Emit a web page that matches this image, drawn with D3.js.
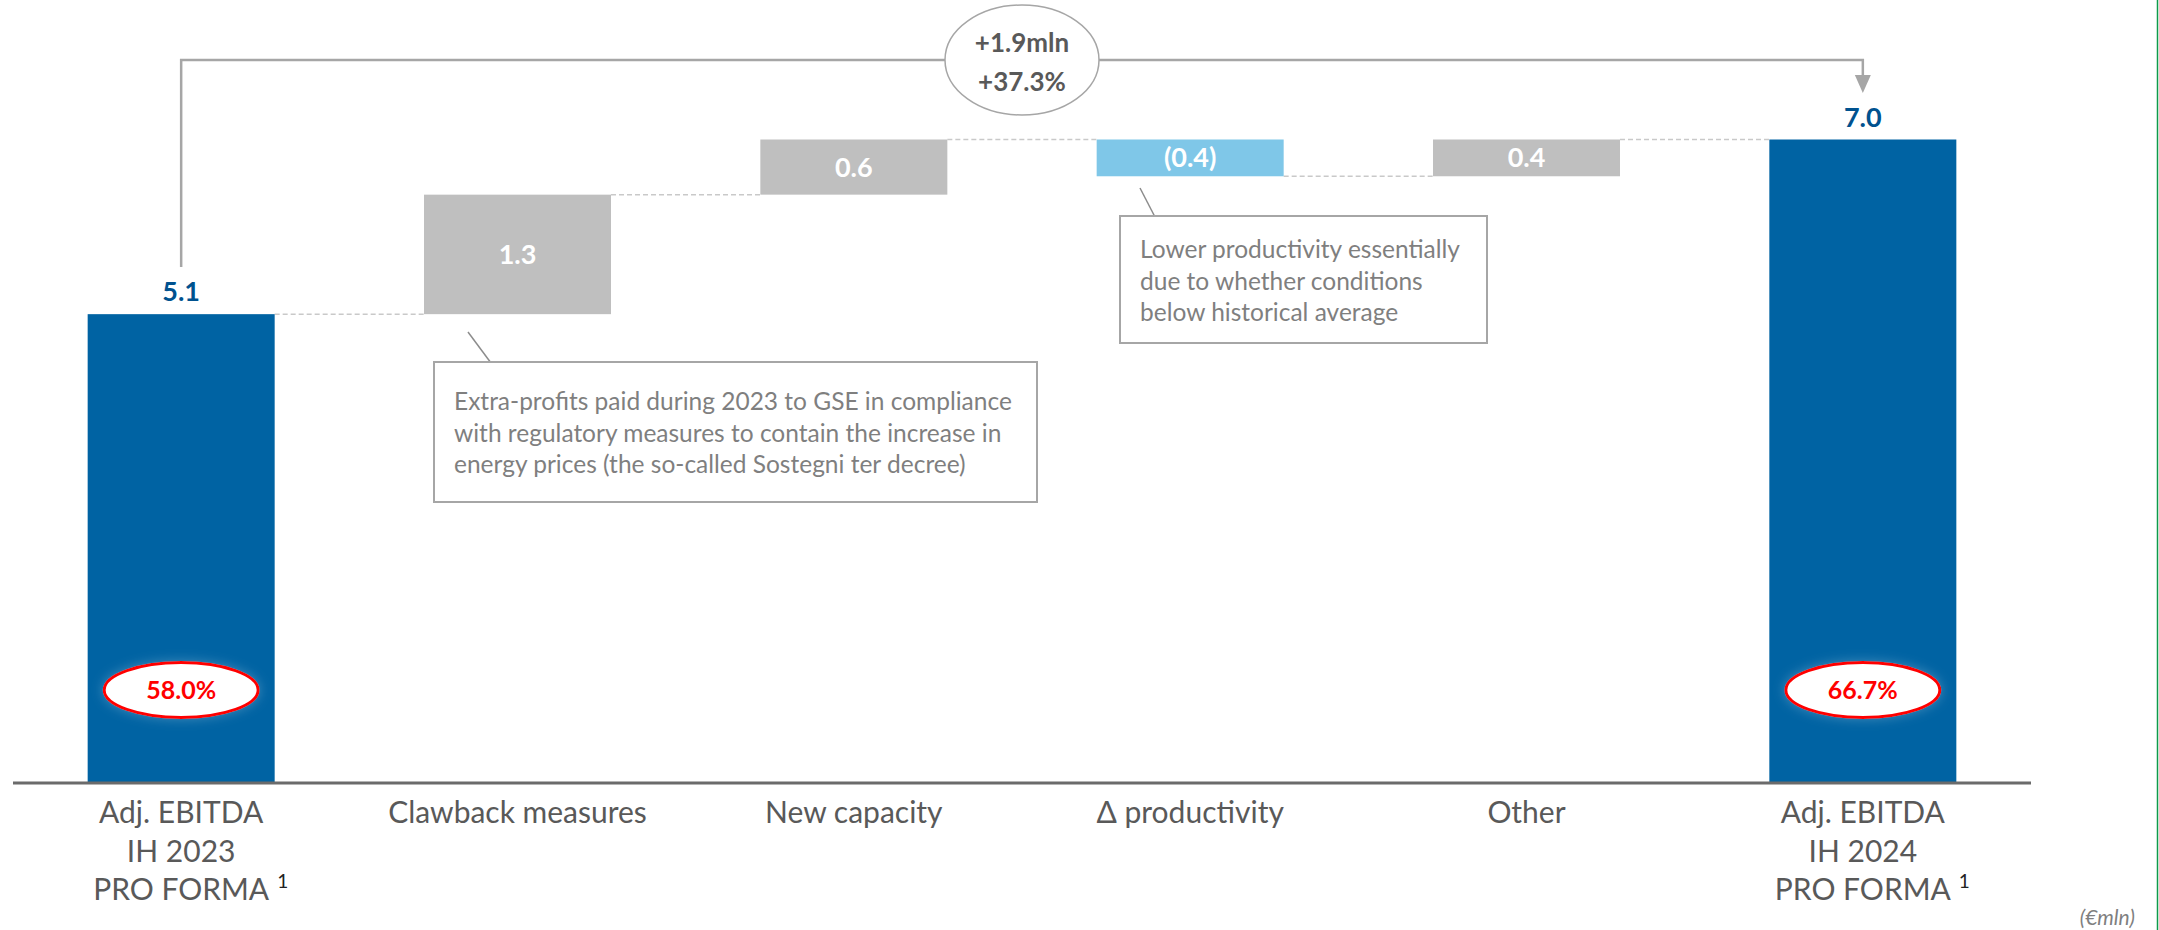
<!DOCTYPE html>
<html>
<head>
<meta charset="utf-8">
<script src="https://cdn.jsdelivr.net/npm/d3@7"></script>
<style>
  html, body { margin: 0; padding: 0; background: #fff; }
  svg { display: block; font-family: Lato, "Open Sans", sans-serif; }
</style>
</head>
<body>
<svg id="chart" width="2159" height="930"></svg>
<script>
// ---------- data ----------
const categories = ["Adj. EBITDA IH 2023", "Clawback measures", "New capacity", "Δ productivity", "Other", "Adj. EBITDA IH 2024"];
const categoryLines = [["Adj. EBITDA", "IH 2023", "PRO FORMA"], ["Clawback measures"], ["New capacity"], ["Δ productivity"], ["Other"], ["Adj. EBITDA", "IH 2024", "PRO FORMA"]];
const footnoteMarks = ["1", "", "", "", "", "1"];
const values = [5.1, 1.3, 0.6, -0.4, 0.4, 7.0];
const barTypes = ["total", "delta", "delta", "delta", "delta", "total"];
const valueLabels = ["5.1", "1.3", "0.6", "(0.4)", "0.4", "7.0"];
const marginLabels = ["58.0%", "", "", "", "", "66.7%"];
const changeLabels = ["+1.9mln", "+37.3%"];
const notes = [
  { cat: "Clawback measures", lines: ["Extra-profits paid during 2023 to GSE in compliance", "with regulatory measures to contain the increase in", "energy prices (the so-called Sostegni ter decree)"] },
  { cat: "Δ productivity", lines: ["Lower productivity essentially", "due to whether conditions", "below historical average"] }
];
const unitLabel = "(€mln)";

// ---------- build waterfall ----------
let run = 0;
const bars = categories.map((c, i) => {
  let y0, y1;
  if (barTypes[i] === "total") { y0 = 0; y1 = values[i]; run = values[i]; }
  else { y0 = run; y1 = run + values[i]; run = y1; }
  return { cat: c, i, y0, y1, end: run, type: barTypes[i], neg: values[i] < 0 };
});

const svg = d3.select("#chart");
const x = d3.scaleBand().domain(categories).range([13, 2031]).paddingInner(0.444).paddingOuter(0.222);
const y = d3.scaleLinear().domain([0, 7]).range([783, 139.5]);

const colBlue = "#0063a3", colGray = "#bfbfbf", colLight = "#7fc7e8";

// green page edge line
svg.append("line").attr("x1", 2157.5).attr("x2", 2157.5).attr("y1", 0).attr("y2", 930)
  .attr("stroke", "#0e9a4a").attr("stroke-width", 1.5);

// connectors
bars.slice(0, -1).forEach((b, k) => {
  const n = bars[k + 1];
  svg.append("line")
    .attr("x1", x(b.cat) + x.bandwidth()).attr("x2", x(n.cat))
    .attr("y1", y(b.end)).attr("y2", y(b.end))
    .attr("stroke", "#c9c9c9").attr("stroke-width", 1.5).attr("stroke-dasharray", "5,3");
});

// bars
svg.selectAll("rect.bar").data(bars).join("rect").attr("class", "bar")
  .attr("x", d => x(d.cat)).attr("width", x.bandwidth())
  .attr("y", d => y(Math.max(d.y0, d.y1)))
  .attr("height", d => Math.abs(y(d.y0) - y(d.y1)))
  .attr("fill", d => d.type === "total" ? colBlue : (d.neg ? colLight : colGray));

// axis
const axis = svg.append("g").attr("transform", `translate(0,${y(0)})`).call(d3.axisBottom(x).tickSize(0).tickFormat(""));
axis.select(".domain").attr("stroke", "#6b6b6b").attr("stroke-width", 3).attr("d", "M13,0H2031");

// category labels
const lab = svg.append("g");
bars.forEach((b, i) => {
  const cx = x(b.cat) + x.bandwidth() / 2;
  const lines = categoryLines[i];
  lines.forEach((t, j) => {
    const tx = lab.append("text").attr("x", cx).attr("y", 823 + j * 38.5)
      .attr("text-anchor", "middle").attr("fill", "#595959").attr("font-size", 30).text(t);
    if (j === lines.length - 1 && footnoteMarks[i]) {
      const w = tx.node().getComputedTextLength();
      lab.append("text").attr("x", cx + w / 2 + 8).attr("y", 823 + j * 38.5 - 12)
        .attr("fill", "#222").attr("font-size", 19).text(footnoteMarks[i]);
    }
  });
});

// value labels
svg.selectAll("text.val").data(bars).join("text").attr("class", "val")
  .attr("x", d => x(d.cat) + x.bandwidth() / 2)
  .attr("y", d => d.type === "total" ? y(d.y1) - 13 : (y(d.y0) + y(d.y1)) / 2 + 9.5)
  .attr("text-anchor", "middle").attr("font-weight", "bold").attr("font-size", 27)
  .attr("fill", d => d.type === "total" ? "#00528f" : "#ffffff")
  .text(d => valueLabels[d.i]);

// margin ellipses
const defs = svg.append("defs");
const f = defs.append("filter").attr("id", "glow").attr("x", "-30%").attr("y", "-60%").attr("width", "160%").attr("height", "220%");
f.append("feGaussianBlur").attr("in", "SourceAlpha").attr("stdDeviation", 6).attr("result", "b");
f.append("feFlood").attr("flood-color", "#ffffff").attr("flood-opacity", 0.25);
f.append("feComposite").attr("in2", "b").attr("operator", "in").attr("result", "s");
const m = f.append("feMerge"); m.append("feMergeNode").attr("in", "s"); m.append("feMergeNode").attr("in", "SourceGraphic");

bars.filter(b => marginLabels[b.i]).forEach(b => {
  const cx = x(b.cat) + x.bandwidth() / 2;
  svg.append("ellipse").attr("cx", cx).attr("cy", 690).attr("rx", 77).attr("ry", 27.5)
    .attr("fill", "#fff").attr("stroke", "#ff0000").attr("stroke-width", 3).attr("filter", "url(#glow)");
  svg.append("text").attr("x", cx).attr("y", 699).attr("text-anchor", "middle")
    .attr("fill", "#ff0000").attr("font-weight", "bold").attr("font-size", 25).text(marginLabels[b.i]);
});

// change bracket
const first = bars[0], last = bars[bars.length - 1];
const fx = x(first.cat) + x.bandwidth() / 2, lx = x(last.cat) + x.bandwidth() / 2;
const topY = 60;
svg.append("path").attr("d", `M${fx},267V${topY}H${lx}V78`).attr("fill", "none")
  .attr("stroke", "#a6a6a6").attr("stroke-width", 2.5);
svg.append("path").attr("d", `M${lx - 8},75L${lx + 8},75L${lx},93Z`).attr("fill", "#a6a6a6");
const ccx = (x(categories[2]) + x.bandwidth() + x(categories[3])) / 2;
svg.append("ellipse").attr("cx", ccx).attr("cy", topY).attr("rx", 77).attr("ry", 55)
  .attr("fill", "#fff").attr("stroke", "#a6a6a6").attr("stroke-width", 1.5);
changeLabels.forEach((t, j) => {
  svg.append("text").attr("x", ccx).attr("y", 52 + j * 39).attr("text-anchor", "middle")
    .attr("fill", "#595959").attr("font-weight", "bold").attr("font-size", 26).text(t);
});

// annotation boxes
const noteGeo = [
  { box: [434, 362, 603, 140], lead: [468, 332, 491, 363], tx: 454, ty: 410 },
  { box: [1120, 216, 367, 127], lead: [1140, 188, 1155, 217], tx: 1140, ty: 258 }
];
notes.forEach((n, k) => {
  const g = noteGeo[k];
  svg.append("line").attr("x1", g.lead[0]).attr("y1", g.lead[1]).attr("x2", g.lead[2]).attr("y2", g.lead[3])
    .attr("stroke", "#8c8c8c").attr("stroke-width", 1.5);
  svg.append("rect").attr("x", g.box[0]).attr("y", g.box[1]).attr("width", g.box[2]).attr("height", g.box[3])
    .attr("fill", "#fff").attr("stroke", "#a6a6a6").attr("stroke-width", 2);
  n.lines.forEach((t, j) => {
    svg.append("text").attr("x", g.tx).attr("y", g.ty + j * 31.5).attr("fill", "#7f7f7f")
      .attr("font-size", 24.5).text(t);
  });
});

// unit label
svg.append("text").attr("x", 2135).attr("y", 925).attr("text-anchor", "end").attr("fill", "#7f7f7f")
  .attr("font-style", "italic").attr("font-size", 21).text(unitLabel);
</script>
</body>
</html>
